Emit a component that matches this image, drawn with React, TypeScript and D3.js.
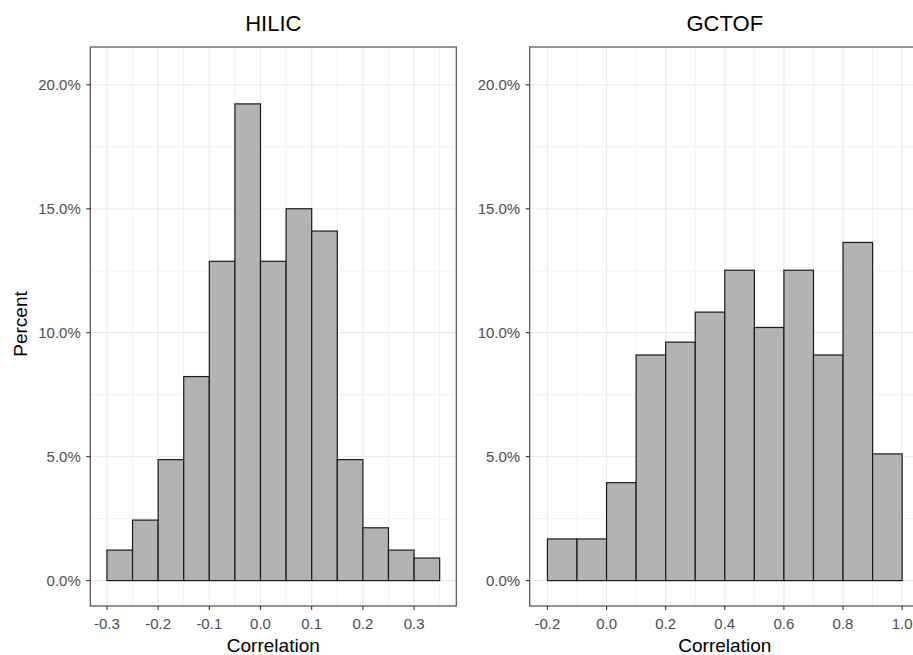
import React from "react";
import * as d3 from "d3";

const hilicBinStart = [-0.3, -0.25, -0.2, -0.15, -0.1, -0.05, 0.0, 0.05, 0.1, 0.15, 0.2, 0.25, 0.3];
const hilicBinWidth = 0.05;
const hilicPercent = [1.23, 2.44, 4.88, 8.23, 12.88, 19.23, 12.88, 15.0, 14.1, 4.88, 2.13, 1.23, 0.91];
const hilicTicks = [-0.3, -0.2, -0.1, 0.0, 0.1, 0.2, 0.3];

const gctofBinStart = [-0.2, -0.1, 0.0, 0.1, 0.2, 0.3, 0.4, 0.5, 0.6, 0.7, 0.8, 0.9];
const gctofBinWidth = 0.1;
const gctofPercent = [1.68, 1.68, 3.95, 9.1, 9.62, 10.83, 12.52, 10.21, 12.52, 9.1, 13.64, 5.11];
const gctofTicks = [-0.2, 0.0, 0.2, 0.4, 0.6, 0.8, 1.0];

const yTicks = [0, 5, 10, 15, 20];
const yMinor = [2.5, 7.5, 12.5, 17.5];

const FONT = "'Liberation Sans', Arial, sans-serif";

type PanelProps = {
  title: string;
  starts: number[];
  width: number;
  values: number[];
  ticks: number[];
  xDomain: [number, number];
  left: number;
  right: number;
};

const TOP = 47;
const BOTTOM = 606;

function Panel({ title, starts, width, values, ticks, xDomain, left, right }: PanelProps) {
  const x = d3.scaleLinear().domain(xDomain).range([left, right]);
  const y = d3.scaleLinear().domain([-1.025, 21.525]).range([BOTTOM, TOP]);
  const step = ticks[1] - ticks[0];
  const minorX: number[] = [];
  for (let i = 0; i < ticks.length; i++) {
    const m = ticks[i] + step / 2;
    if (m < xDomain[1]) minorX.push(m);
  }
  const fmtX = (v: number) => d3.format(".1f")(v).replace("−", "-");
  const cx = (left + right) / 2;
  return (
    <g>
      <rect x={left} y={TOP} width={right - left} height={BOTTOM - TOP} fill="#ffffff" />
      {yMinor.map((v) => (
        <line key={"ym" + v} x1={left} x2={right} y1={y(v)} y2={y(v)} stroke="#ebebeb" strokeWidth={0.7} />
      ))}
      {minorX.map((v) => (
        <line key={"xm" + v} x1={x(v)} x2={x(v)} y1={TOP} y2={BOTTOM} stroke="#ebebeb" strokeWidth={0.7} />
      ))}
      {yTicks.map((v) => (
        <line key={"yM" + v} x1={left} x2={right} y1={y(v)} y2={y(v)} stroke="#ebebeb" strokeWidth={1.2} />
      ))}
      {ticks.map((v) => (
        <line key={"xM" + v} x1={x(v)} x2={x(v)} y1={TOP} y2={BOTTOM} stroke="#ebebeb" strokeWidth={1.2} />
      ))}
      {starts.map((s, i) => (
        <rect
          key={"b" + i}
          x={x(s)}
          y={y(values[i])}
          width={x(s + width) - x(s)}
          height={y(0) - y(values[i])}
          fill="#b3b3b3"
          stroke="#1a1a1a"
          strokeWidth={1.2}
        />
      ))}
      <rect x={left} y={TOP} width={right - left} height={BOTTOM - TOP} fill="none" stroke="#4d4d4d" strokeWidth={1.2} />
      {yTicks.map((v) => (
        <g key={"yt" + v}>
          <line x1={left - 4} x2={left} y1={y(v)} y2={y(v)} stroke="#333333" strokeWidth={1.1} />
          <text x={left - 9.5} y={y(v)} dy="0.35em" textAnchor="end" fontSize={15} fill="#4d4d4d" fontFamily={FONT}>
            {d3.format(".1f")(v) + "%"}
          </text>
        </g>
      ))}
      {ticks.map((v) => (
        <g key={"xt" + v}>
          <line x1={x(v)} x2={x(v)} y1={BOTTOM} y2={BOTTOM + 4} stroke="#333333" strokeWidth={1.1} />
          <text x={x(v)} y={628.5} textAnchor="middle" fontSize={15} fill="#4d4d4d" fontFamily={FONT}>
            {fmtX(v)}
          </text>
        </g>
      ))}
      <text x={cx} y={31} textAnchor="middle" fontSize={22} fill="#000000" fontFamily={FONT}>
        {title}
      </text>
      <text x={cx} y={651.7} textAnchor="middle" fontSize={19} fill="#000000" fontFamily={FONT}>
        Correlation
      </text>
    </g>
  );
}

export default function App() {
  return (
    <svg
      width={913}
      height={655}
      style={{ position: "absolute", left: 0, top: 0, background: "#ffffff" }}
    >
      <rect x={0} y={0} width={913} height={655} fill="#ffffff" />
      <Panel
        title="HILIC"
        starts={hilicBinStart}
        width={hilicBinWidth}
        values={hilicPercent}
        ticks={hilicTicks}
        xDomain={[-0.3325, 0.3825]}
        left={90.3}
        right={456.3}
      />
      <Panel
        title="GCTOF"
        starts={gctofBinStart}
        width={gctofBinWidth}
        values={gctofPercent}
        ticks={gctofTicks}
        xDomain={[-0.26, 1.06]}
        left={529.7}
        right={919.9}
      />
      <text
        transform="translate(27.3,324) rotate(-90)"
        textAnchor="middle"
        fontSize={19}
        fill="#000000"
        fontFamily={FONT}
      >
        Percent
      </text>
    </svg>
  );
}
